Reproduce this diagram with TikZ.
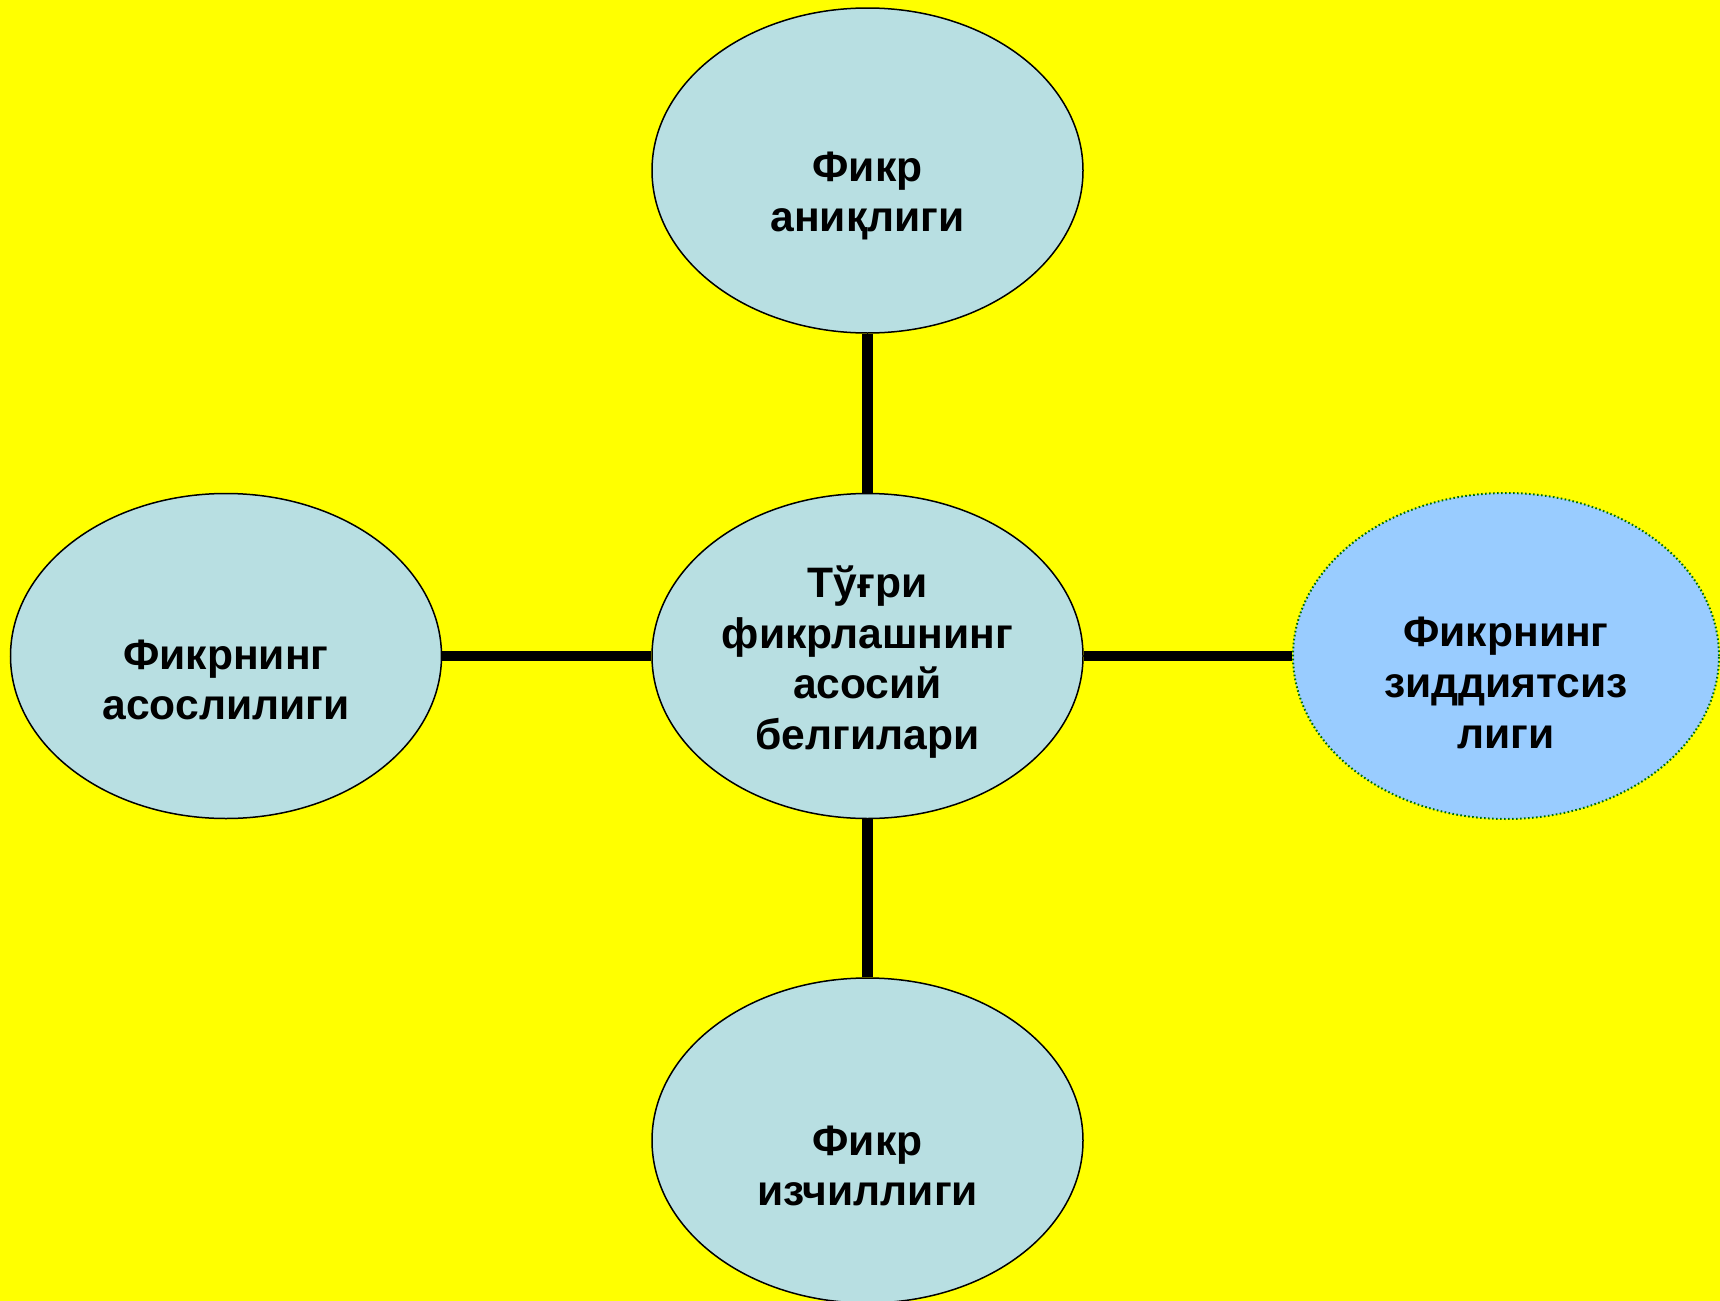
\documentclass[tikz,border=0pt]{standalone}
\usepackage{fontspec}
\setmainfont{Liberation Sans}
\usetikzlibrary{shapes.geometric,backgrounds}
\definecolor{bgyellow}{RGB}{255,255,0}
\definecolor{ovalfill}{RGB}{184,223,226}
\definecolor{bluefill}{RGB}{153,204,255}
\definecolor{dotgreen}{RGB}{0,110,0}
\tikzset{
  oval/.style={ellipse, draw=black, line width=0.75pt, fill=ovalfill,
    minimum width=215.5pt, minimum height=162.5pt, inner sep=0pt},
  blueoval/.style={oval, fill=bluefill, draw=dotgreen, line width=1pt,
    dash pattern=on 0.8pt off 1.2pt, minimum width=213pt, minimum height=163pt},
  lbl/.style={align=center, inner sep=0pt, text=black,
    font=\fontsize{21.3}{25.4}\selectfont\bfseries},
  link/.style={line width=5.4pt, draw=black}
}
\begin{document}
\begin{tikzpicture}[x=0.5pt, y=-0.5pt]
\clip (0,0) rectangle (1720,1301);
\node[oval] (top) at (867.5,170.5) {};
\node[oval] (mid) at (867.5,656) {};
\node[oval] (bot) at (867.5,1140.5) {};
\node[oval] (left) at (226,656) {};
\node[blueoval] (right) at (1506,656) {};
\begin{scope}[on background layer]
  \fill[bgyellow] (0,0) rectangle (1720,1301);
  \draw[link] (top.south) -- (mid.north);
  \draw[link] (mid.south) -- (bot.north);
  \draw[link] (left.east) -- (mid.west);
  \draw[link] (mid.east) -- (right.west);
\end{scope}
\node[lbl] (ttop) at (867.5,196) {Фикр\\аниқлиги};
\node[lbl] (tmid) at (867.5,662) {Тўғри\\фикрлашнинг\\асосий\\белгилари};
\node[lbl] (tbot) at (867.5,1166) {Фикр\\изчиллиги};
\node[lbl] (tleft) at (226,680) {Фикрнинг\\асослилиги};
\node[lbl] (tright) at (1506,683) {Фикрнинг\\зиддиятсиз\\лиги};
\end{tikzpicture}
\end{document}
